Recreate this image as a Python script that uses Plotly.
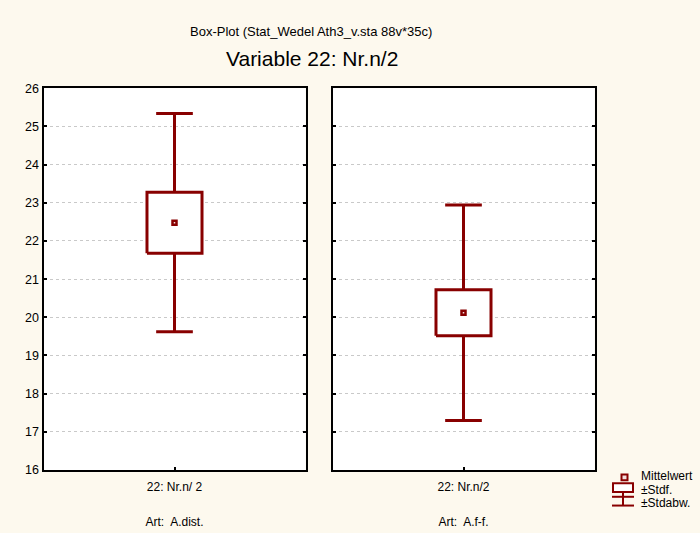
import plotly.graph_objects as go

# Summary statistics per group (Variable 22: Nr.n/2)
groups = ["A.dist.", "A.f-f."]
tick_labels = ["22: Nr.n/ 2", "22: Nr.n/2"]
means = [22.48, 20.12]
std_errs = [0.80, 0.60]
std_devs = [2.86, 2.82]

y_ticks = [16, 17, 18, 19, 20, 21, 22, 23, 24, 25, 26]

W, H = 700, 533
RED = "#880000"
PAPER = "#fdf9ee"
FONT = "Liberation Sans, Arial, sans-serif"


def px_x(p):
    return p / W


def px_y(p):
    return 1 - p / H


fig = go.Figure()

box_half = 0.21
cap_half = 0.14
line_w = 3

for i, (m, se, sd) in enumerate(zip(means, std_errs, std_devs)):
    xa = "x" if i == 0 else "x2"
    ya = "y" if i == 0 else "y2"
    lo, hi = m - se, m + se
    lo_w, hi_w = m - sd, m + sd
    common = dict(xaxis=xa, yaxis=ya, mode="lines", showlegend=False,
                  hoverinfo="skip", line=dict(color=RED, width=line_w))
    # whiskers (mean +/- SD)
    fig.add_trace(go.Scatter(x=[0, 0], y=[hi, hi_w], **common))
    fig.add_trace(go.Scatter(x=[0, 0], y=[lo_w, lo], **common))
    fig.add_trace(go.Scatter(x=[-cap_half, cap_half], y=[hi_w, hi_w], **common))
    fig.add_trace(go.Scatter(x=[-cap_half, cap_half], y=[lo_w, lo_w], **common))
    # box (mean +/- SE)
    fig.add_trace(go.Scatter(
        x=[-box_half, box_half, box_half, -box_half, -box_half],
        y=[lo, lo, hi, hi, lo], fill="toself", fillcolor="white", **common))
    # mean marker
    fig.add_trace(go.Scatter(
        x=[0], y=[m], xaxis=xa, yaxis=ya, mode="markers", showlegend=False,
        marker=dict(symbol="square", size=4, color="#f3dede",
                    line=dict(color=RED, width=2.5))))

x_dom = [(43.5 / W, 305.5 / W), (332.5 / W, 594.5 / W)]
y_dom = [px_y(475.5), px_y(83.5)]

grid = dict(showgrid=True, gridcolor="#c9c9c9", gridwidth=1, griddash="3px,3px")

for i in range(2):
    sfx = "" if i == 0 else "2"
    fig.update_layout(**{
        f"xaxis{sfx}": dict(
            domain=list(x_dom[i]), range=[-1, 1], anchor=f"y{sfx}",
            tickvals=[0], ticktext=[tick_labels[i]], ticks="inside", ticklen=3,
            tickcolor="black", tickwidth=2, ticklabelstandoff=5,
            showline=True, linecolor="black", linewidth=2, mirror=True,
            showgrid=False, zeroline=False,
            tickfont=dict(family=FONT, size=12, color="black"),
            title=dict(text=f"Art:  {groups[i]}", standoff=24,
                       font=dict(family=FONT, size=12, color="black")),
            fixedrange=True),
        f"yaxis{sfx}": dict(
            domain=y_dom, range=[16, 26], anchor=f"x{sfx}",
            tickvals=y_ticks, ticks="inside", ticklen=3, tickcolor="black",
            tickwidth=2, showticklabels=(i == 0),
            showline=True, linecolor="black", linewidth=2, mirror="ticks",
            zeroline=False, **grid,
            tickfont=dict(family=FONT, size=12.5, color="black"),
            fixedrange=True),
    })

# Legend drawn by hand in the lower right corner
shapes = [
    dict(type="rect", xref="paper", yref="paper",
         x0=px_x(621.5), x1=px_x(627.5), y0=px_y(486), y1=px_y(480),
         line=dict(color=RED, width=2), fillcolor="#f3dede"),
    dict(type="rect", xref="paper", yref="paper",
         x0=px_x(613), x1=px_x(633), y0=px_y(498), y1=px_y(489),
         line=dict(color=RED, width=2), fillcolor="white"),
    dict(type="line", xref="paper", yref="paper",
         x0=px_x(623), x1=px_x(623), y0=px_y(499), y1=px_y(512),
         line=dict(color=RED, width=2)),
    dict(type="line", xref="paper", yref="paper",
         x0=px_x(612), x1=px_x(634), y0=px_y(503), y1=px_y(503),
         line=dict(color=RED, width=2)),
    dict(type="line", xref="paper", yref="paper",
         x0=px_x(612), x1=px_x(634), y0=px_y(512), y1=px_y(512),
         line=dict(color=RED, width=2)),
]

annotations = [
    dict(text="Box-Plot (Stat_Wedel Ath3_v.sta 88v*35c)", x=px_x(311), y=px_y(25),
         xref="paper", yref="paper", showarrow=False, xanchor="center", yanchor="middle",
         font=dict(family=FONT, size=13, color="black")),
    dict(text="Variable 22: Nr.n/2", x=px_x(312), y=px_y(53),
         xref="paper", yref="paper", showarrow=False, xanchor="center", yanchor="middle",
         font=dict(family=FONT, size=21, color="black")),
]
for label, yp in [("Mittelwert", 482), ("±Stdf.", 496), ("±Stdabw.", 509)]:
    annotations.append(dict(text=label, x=px_x(639), y=px_y(yp), xref="paper",
                            yref="paper", showarrow=False, xanchor="left",
                            yanchor="middle",
                            font=dict(family=FONT, size=12, color="black")))

fig.update_layout(
    width=W, height=H,
    margin=dict(l=0, r=0, t=0, b=0),
    paper_bgcolor=PAPER, plot_bgcolor="white",
    shapes=shapes, annotations=annotations,
    showlegend=False,
)

fig.write_html("out.html")
